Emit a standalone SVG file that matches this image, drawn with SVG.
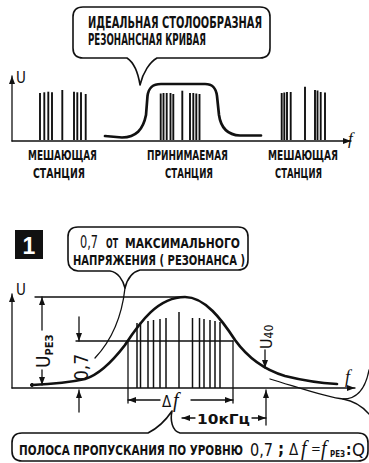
<svg xmlns="http://www.w3.org/2000/svg" width="369" height="463" viewBox="0 0 369 463">
<style>
.ln{stroke:#111;fill:none;stroke-width:1.3;stroke-linecap:round}
.th{stroke:#111;fill:none;stroke-width:2.7;stroke-linecap:round;stroke-linejoin:round}
.bar{stroke:#111;stroke-width:1.9}
.bar2{stroke:#111;stroke-width:1.5}
.bub{stroke:#111;fill:#fff;stroke-width:1.6;stroke-linejoin:round}
.t{font-family:"DejaVu Sans Condensed","Liberation Sans Narrow","Liberation Sans",sans-serif;fill:#111}
.it{font-family:"Liberation Serif","DejaVu Serif",serif;font-style:italic;fill:#111}
</style>
<defs>
<marker id="ah" markerUnits="userSpaceOnUse" markerWidth="9" markerHeight="7" refX="8" refY="3" orient="auto"><path d="M0,0 L8,3 L0,6 Z" fill="#111"/></marker>
</defs>

<!-- Figure top -->
<g id="axes-top">
<line class="ln" x1="12" y1="141" x2="12" y2="76" marker-end="url(#ah)"/>
<line class="ln" x1="12" y1="141" x2="351" y2="141" marker-end="url(#ah)"/>
<text class="t" x="16" y="83" font-size="15">U</text>
<text class="it" x="348" y="144" font-size="17">f</text>
</g>

<g id="station-left">
<g class="bar">
<line x1="40" y1="93" x2="40" y2="140"/><line x1="44.3" y1="92.3" x2="44.3" y2="140"/><line x1="48.3" y1="91.7" x2="48.3" y2="140"/><line x1="52" y1="92.3" x2="52" y2="140"/>
<line x1="62.3" y1="90" x2="62.3" y2="140"/>
<line x1="74" y1="91.7" x2="74" y2="140"/><line x1="77.3" y1="92.3" x2="77.3" y2="140"/><line x1="81" y1="92.3" x2="81" y2="140"/><line x1="85.7" y1="94" x2="85.7" y2="140"/>
</g>
<text class="t" x="28" y="160" font-size="14.5" font-weight="bold" textLength="69" lengthAdjust="spacingAndGlyphs">МЕШАЮЩАЯ</text>
<text class="t" x="33" y="178" font-size="14.5" font-weight="bold" textLength="52" lengthAdjust="spacingAndGlyphs">СТАНЦИЯ</text>
</g>

<g id="station-center">
<g class="bar">
<line x1="160.7" y1="93.5" x2="160.7" y2="140"/><line x1="163.5" y1="93" x2="163.5" y2="140"/><line x1="166.7" y1="93" x2="166.7" y2="140"/><line x1="170.5" y1="93" x2="170.5" y2="140"/><line x1="173.3" y1="94" x2="173.3" y2="140"/>
<line x1="182.3" y1="90.7" x2="182.3" y2="140"/>
<line x1="190" y1="93" x2="190" y2="140"/><line x1="193.3" y1="93" x2="193.3" y2="140"/><line x1="196.3" y1="93.5" x2="196.3" y2="140"/><line x1="199.5" y1="94" x2="199.5" y2="140"/>
</g>
<text class="t" x="147" y="160" font-size="14.5" font-weight="bold" textLength="81" lengthAdjust="spacingAndGlyphs">ПРИНИМАЕМАЯ</text>
<text class="t" x="165" y="178" font-size="14.5" font-weight="bold" textLength="48" lengthAdjust="spacingAndGlyphs">СТАНЦИЯ</text>
</g>

<g id="station-right">
<g class="bar">
<line x1="281.7" y1="93" x2="281.7" y2="140"/><line x1="284.3" y1="92.5" x2="284.3" y2="140"/><line x1="287" y1="92" x2="287" y2="140"/><line x1="290.7" y1="92" x2="290.7" y2="140"/>
<line x1="305" y1="86.7" x2="305" y2="140"/>
<line x1="315" y1="90" x2="315" y2="140"/><line x1="317.5" y1="90.5" x2="317.5" y2="140"/><line x1="320.7" y1="92" x2="320.7" y2="140"/><line x1="325" y1="92.5" x2="325" y2="140"/>
</g>
<text class="t" x="268" y="160" font-size="14.5" font-weight="bold" textLength="70" lengthAdjust="spacingAndGlyphs">МЕШАЮЩАЯ</text>
<text class="t" x="275" y="178" font-size="14.5" font-weight="bold" textLength="47" lengthAdjust="spacingAndGlyphs">СТАНЦИЯ</text>
</g>

<g id="ideal-curve">
<path class="th" d="M105,136 L122,137.5 C136,137 143,130 146,115 L147.5,96 C148.5,88 152,84 161,84 L205,84 C213,84 216,88 217,96 L219,115 C221,129 228,135 240,135.5 L261,135.5"/>
</g>

<g id="bubble-ideal">
<path class="bub" d="M83,7 H260 Q270,7 270,17 V48 Q270,58 260,58 H157 C150,62 143,72 140,85 C138,72 133,62 127,58 H83 Q73,58 73,48 V17 Q73,7 83,7 Z"/>
<text class="t" x="88" y="28" font-size="16" font-weight="bold" textLength="174" lengthAdjust="spacingAndGlyphs">ИДЕАЛЬНАЯ  СТОЛООБРАЗНАЯ</text>
<text class="t" x="88" y="45" font-size="16" font-weight="bold" textLength="118" lengthAdjust="spacingAndGlyphs">РЕЗОНАНСНАЯ  КРИВАЯ</text>
</g>

<!-- Figure bottom -->
<g id="label-1">
<rect x="15" y="230" width="28" height="29" fill="#111"/>
<text x="29" y="254" text-anchor="middle" font-family="Liberation Sans Narrow,Liberation Sans,sans-serif" font-weight="bold" font-size="23" fill="#fff">1</text>
</g>

<g id="axes-bottom">
<line class="ln" x1="12" y1="388" x2="12" y2="294" marker-end="url(#ah)"/>
<line class="ln" x1="12" y1="388" x2="355" y2="388" marker-end="url(#ah)"/>
<text class="t" x="16" y="295" font-size="15">U</text>
<text class="it" x="345" y="383" font-size="18">f</text>
</g>

<g id="bars-bottom" class="bar2">
<line x1="137" y1="323" x2="137" y2="388"/><line x1="140.5" y1="322" x2="140.5" y2="388"/><line x1="148" y1="321" x2="148" y2="388"/><line x1="153.5" y1="320" x2="153.5" y2="388"/><line x1="160" y1="319" x2="160" y2="388"/><line x1="166" y1="318" x2="166" y2="388"/>
<line x1="179" y1="312" x2="179" y2="388"/>
<line x1="192.5" y1="318" x2="192.5" y2="388"/><line x1="199.5" y1="318" x2="199.5" y2="388"/><line x1="204" y1="319" x2="204" y2="388"/><line x1="210" y1="320" x2="210" y2="388"/><line x1="215" y1="321" x2="215" y2="388"/><line x1="220" y1="322" x2="220" y2="388"/>
</g>

<g id="connectors">
<line class="ln" x1="35" y1="297" x2="183" y2="297"/>
<line class="ln" x1="42" y1="330" x2="42" y2="297" marker-end="url(#ah)"/>
<line class="ln" x1="42" y1="370" x2="42" y2="385" marker-end="url(#ah)"/>
<line class="ln" x1="76" y1="341" x2="233" y2="341"/>
<line class="ln" x1="79" y1="317" x2="79" y2="341" marker-end="url(#ah)"/>
<line class="ln" x1="79" y1="412" x2="79" y2="390" marker-end="url(#ah)"/>
<line class="ln" x1="128" y1="341" x2="128" y2="403"/>
<line class="ln" x1="233" y1="341" x2="233" y2="403"/>
<line class="ln" x1="160" y1="400" x2="128" y2="400" marker-end="url(#ah)"/>
<line class="ln" x1="191" y1="400" x2="233" y2="400" marker-end="url(#ah)"/>
<line class="ln" x1="195" y1="418" x2="182" y2="418" marker-end="url(#ah)"/>
<line class="ln" x1="252" y1="418" x2="266" y2="418" marker-end="url(#ah)"/>
<line class="ln" x1="266" y1="425" x2="266" y2="390" marker-end="url(#ah)"/>
<line class="ln" x1="265" y1="350" x2="265" y2="368" marker-end="url(#ah)"/>
<path class="ln" d="M125,288 C122,315 112,340 95,358"/>
<path class="ln" d="M270,379 C300,388 328,398 343,399 C356,399 365,391 369,370"/>
<path class="ln" d="M343,399 C354,401 362,406 369,414"/>
</g>

<g id="response-curve">
<path class="th" d="M32,385 C55,384 72,382 85,379 C98,375 112,362 125,345 C140,322 158,297 185,297 C205,297 222,320 235,340 C248,358 265,370 285,376 C305,381 320,383 337,384"/>
<circle cx="32" cy="385" r="1.6" fill="none" stroke="#111" stroke-width="1"/>
</g>

<g id="labels-bottom">
<text class="t" transform="translate(50,368) rotate(-90)" font-size="19">U<tspan font-size="11" font-weight="bold" dy="3">РЕЗ</tspan></text>
<text class="t" transform="translate(88,381) rotate(-90)" font-size="19">0,7</text>
<text class="t" transform="translate(272,349) rotate(-90)" font-size="16">U<tspan font-size="12" dy="1">40</tspan></text>
<text class="t" x="162" y="407" font-size="15">Δ</text>
<text class="it" x="173" y="407" font-size="20">f</text>
<text class="t" x="197" y="424" font-size="14" font-weight="bold" textLength="53" lengthAdjust="spacingAndGlyphs">10кГц</text>
</g>

<g id="bubble-max">
<path class="bub" d="M78,227 H238 Q248,227 248,237 V260 Q248,270 238,270 H140 C132,272 127,280 125,288 C123,280 118,272 110,271 H78 Q68,270 68,260 V237 Q68,227 78,227 Z"/>
<text class="t" x="80" y="248" font-size="18" textLength="18" lengthAdjust="spacingAndGlyphs">0,7</text>
<text class="t" x="106" y="248" font-size="14" font-weight="bold" textLength="12" lengthAdjust="spacingAndGlyphs">ОТ</text>
<text class="t" x="125" y="248" font-size="14" font-weight="bold" textLength="115" lengthAdjust="spacingAndGlyphs">МАКСИМАЛЬНОГО</text>
<text class="t" x="73" y="265" font-size="14" font-weight="bold" textLength="172" lengthAdjust="spacingAndGlyphs">НАПРЯЖЕНИЯ  ( РЕЗОНАНСА )</text>
</g>

<g id="bubble-band">
<path class="bub" d="M22,433 H148 C158,428 166,420 172,411 C170,420 172,431 180,433 H358 Q368,433 368,443 V451 Q368,461 358,461 H22 Q12,461 12,451 V443 Q12,433 22,433 Z"/>
<text class="t" x="19" y="455" font-size="14" font-weight="bold" textLength="224" lengthAdjust="spacingAndGlyphs">ПОЛОСА  ПРОПУСКАНИЯ  ПО  УРОВНЮ</text>
<text class="t" x="250" y="456" font-size="18" textLength="23" lengthAdjust="spacingAndGlyphs">0,7</text>
<text class="t" x="278" y="455" font-size="17" font-weight="bold">;</text>
<text class="t" x="289" y="455" font-size="15">Δ</text>
<text class="it" x="301" y="455" font-size="20">f</text>
<text class="t" x="311" y="453" font-size="13">=</text>
<text class="it" x="321" y="455" font-size="20">f</text>
<text class="t" x="330" y="457" font-size="9" font-weight="bold" textLength="15" lengthAdjust="spacingAndGlyphs">РЕЗ</text>
<text class="t" x="346" y="455" font-size="15" font-weight="bold">:</text>
<text class="t" x="352" y="456" font-size="17" textLength="13" lengthAdjust="spacingAndGlyphs">Q</text>
</g>
</svg>
